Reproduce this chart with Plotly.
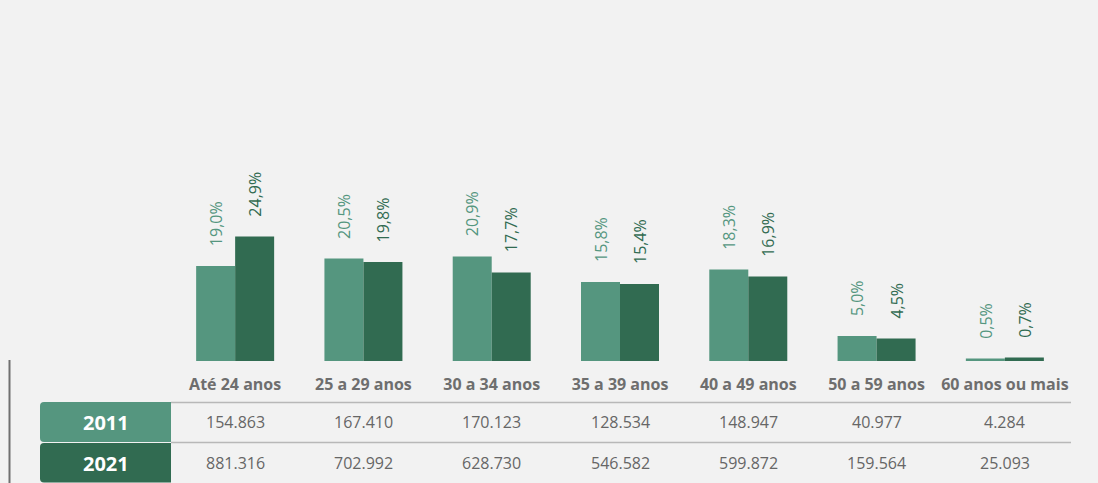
import plotly.graph_objects as go

categories = ["Até 24 anos", "25 a 29 anos", "30 a 34 anos", "35 a 39 anos",
              "40 a 49 anos", "50 a 59 anos", "60 anos ou mais"]
pct_2011 = [19.0, 20.5, 20.9, 15.8, 18.3, 5.0, 0.5]
pct_2021 = [24.9, 19.8, 17.7, 15.4, 16.9, 4.5, 0.7]
abs_2011 = ["154.863", "167.410", "170.123", "128.534", "148.947", "40.977", "4.284"]
abs_2021 = ["881.316", "702.992", "628.730", "546.582", "599.872", "159.564", "25.093"]
years = ["2011", "2021"]

C_LIGHT = "#55967F"
C_DARK = "#316B51"
BG = "#F2F2F2"
FONT = "Open Sans"

W, H = 1098, 483
ML, MR, MT, MB = 171, 29, 11, 122
PW = W - ML - MR
PH = H - MT - MB
BASE = H - MB  # pixel y of the baseline


def py(ypx):
    return (BASE - ypx) / PH


def px(xpx):
    return (xpx - ML) / PW


def fmt(v):
    return f"{v:.1f}".replace(".", ",") + "%"


fig = go.Figure()
fig.add_trace(go.Bar(x=categories, y=pct_2011, name=years[0], marker=dict(color=C_LIGHT, line=dict(width=0))))
fig.add_trace(go.Bar(x=categories, y=pct_2021, name=years[1], marker=dict(color=C_DARK, line=dict(width=0))))

annotations = []
for c, v1, v2 in zip(categories, pct_2011, pct_2021):
    annotations.append(dict(x=c, y=v1, xref="x", yref="y", text=fmt(v1), showarrow=False,
                            textangle=-90, xanchor="center", yanchor="bottom", xshift=-19.5, yshift=18,
                            font=dict(family=FONT, size=16, color=C_LIGHT)))
    annotations.append(dict(x=c, y=v2, xref="x", yref="y", text=fmt(v2), showarrow=False,
                            textangle=-90, xanchor="center", yanchor="bottom", xshift=19.5, yshift=18,
                            font=dict(family=FONT, size=16, color=C_DARK)))

rows = [(abs_2011, 422), (abs_2021, 463)]
for vals, ycen in rows:
    for c, t in zip(categories, vals):
        annotations.append(dict(x=c, y=py(ycen), xref="x", yref="paper", text=t, showarrow=False,
                                xanchor="center", yanchor="middle",
                                font=dict(family=FONT, size=16, color="#666666")))

# year labels
for yr, ycen in zip(years, [422, 463]):
    annotations.append(dict(x=px(105.5), y=py(ycen), xref="paper", yref="paper", text=f"<b>{yr}</b>",
                            showarrow=False, xanchor="center", yanchor="middle",
                            font=dict(family=FONT, size=20, color="white")))


def rounded_left(x0, x1, y0, y1, r):
    # pixel coords -> paper path; left corners rounded
    X0, X1 = px(x0), px(x1)
    rx = r / PW
    ry = r / PH
    Yt, Yb = py(y0), py(y1)
    return (f"M {X0+rx} {Yt} L {X1} {Yt} L {X1} {Yb} L {X0+rx} {Yb} "
            f"Q {X0} {Yb} {X0} {Yb+ry} L {X0} {Yt-ry} Q {X0} {Yt} {X0+rx} {Yt} Z")


shapes = [
    dict(type="path", xref="paper", yref="paper", path=rounded_left(40, 171, 402, 442, 4),
         fillcolor=C_LIGHT, line=dict(width=0), layer="above"),
    dict(type="path", xref="paper", yref="paper", path=rounded_left(40, 171, 443, 482.5, 4),
         fillcolor=C_DARK, line=dict(width=0), layer="above"),
    dict(type="line", xref="paper", yref="paper", x0=px(171), x1=px(1071), y0=py(402.5), y1=py(402.5),
         line=dict(color="#B8B8B8", width=1.5)),
    dict(type="line", xref="paper", yref="paper", x0=px(171), x1=px(1071), y0=py(442.5), y1=py(442.5),
         line=dict(color="#B8B8B8", width=1.5)),
    dict(type="line", xref="paper", yref="paper", x0=px(9.5), x1=px(9.5), y0=py(360), y1=py(483),
         line=dict(color="#707070", width=2)),
]

fig.update_layout(
    width=W, height=H,
    margin=dict(l=ML, r=MR, t=MT, b=MB, pad=0),
    paper_bgcolor=BG, plot_bgcolor=BG,
    barmode="group", bargap=0.392, bargroupgap=0,
    showlegend=False,
    annotations=annotations, shapes=shapes,
    xaxis=dict(showgrid=False, zeroline=False, showline=False, ticks="",
               tickfont=dict(family=FONT, size=16, color="#6E6E6E", weight="bold"),
               ticklabelstandoff=12),
    yaxis=dict(range=[0, PH / 5.0], visible=False, showgrid=False, zeroline=False),
)

fig.write_html("out.html", config={"displayModeBar": False},
               post_script="document.body.style.margin='0';document.body.style.background='#F2F2F2';")
